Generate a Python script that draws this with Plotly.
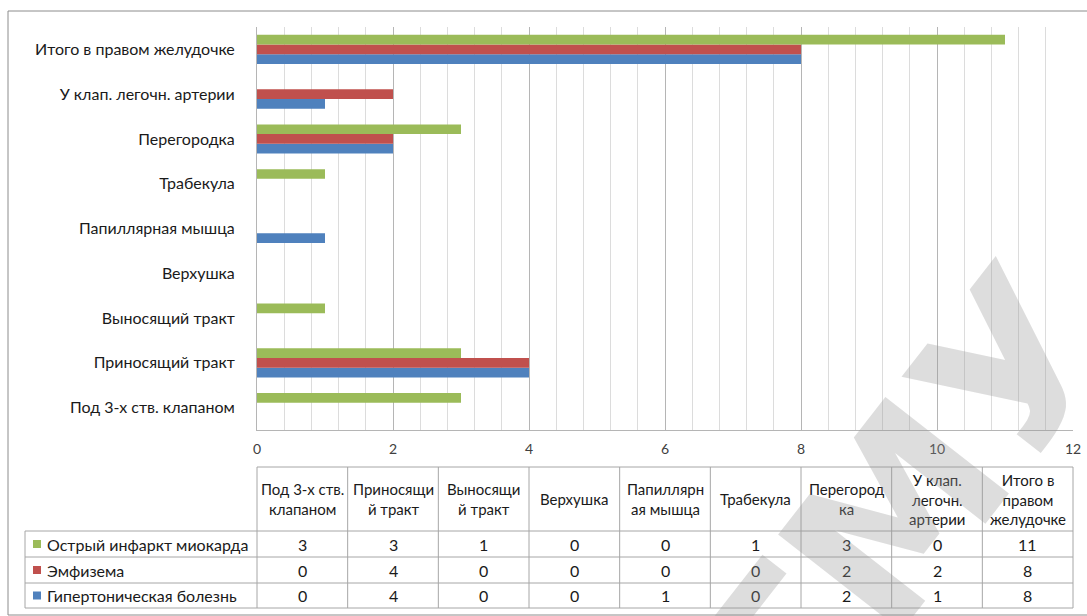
import plotly.graph_objects as go

W, H = 1087, 616

categories = ["Под 3-х ств. клапаном", "Приносящий тракт", "Выносящий тракт", "Верхушка",
              "Папиллярная мышца", "Трабекула", "Перегородка", "У клап. легочн. артерии",
              "Итого в правом желудочке"]
header_labels = ["Под 3-х ств.<br>клапаном", "Приносящи<br>й тракт", "Выносящи<br>й тракт", "Верхушка",
                 "Папиллярн<br>ая мышца", "Трабекула", "Перегород<br>ка", "У клап.<br>легочн.<br>артерии",
                 "Итого в<br>правом<br>желудочке"]

hypertension = [0, 4, 0, 0, 1, 0, 2, 1, 8]
emphysema = [0, 4, 0, 0, 0, 0, 2, 2, 8]
infarction = [3, 3, 1, 0, 0, 1, 3, 0, 11]

series_names = ["Острый инфаркт миокарда", "Эмфизема", "Гипертоническая болезнь"]
series_values = [infarction, emphysema, hypertension]
series_colors = ["#9BBB59", "#C0504D", "#4F81BD"]

FONT = "Lato, Open Sans, sans-serif"
TXT = "#1a1a1a"

PLOT_L, PLOT_R, PLOT_T, PLOT_B = 257, 1073, 27, 430

def px(x):
    return x / W

def py(y):
    return 1 - y / H

fig = go.Figure()
# plotly draws first trace at bottom of group: blue, red, green
for name, vals, col in reversed(list(zip(series_names, series_values, series_colors))):
    fig.add_trace(go.Bar(y=categories, x=vals, orientation="h", name=name,
                         marker=dict(color=col, line=dict(width=0))))

shapes = []
annotations = []

# outer border
shapes.append(dict(type="rect", xref="paper", yref="paper", x0=px(8), x1=px(1100),
                   y0=py(615), y1=py(11), line=dict(color="#8c8c8c", width=1), layer="below"))

# data table grid (columns aligned with plot area)
ncol = len(categories)
col_px = [PLOT_L + i * (PLOT_R - PLOT_L) / ncol for i in range(ncol + 1)]
row_y = [467, 531, 557, 583, 608]
tbl_col = "#a6a6a6"
for xx in col_px:
    shapes.append(dict(type="line", xref="paper", yref="paper", x0=px(xx), x1=px(xx),
                       y0=py(row_y[0]), y1=py(row_y[-1]), line=dict(color=tbl_col, width=1),
                       layer="above"))
shapes.append(dict(type="line", xref="paper", yref="paper", x0=px(25), x1=px(25),
                   y0=py(row_y[1]), y1=py(row_y[-1]), line=dict(color=tbl_col, width=1),
                   layer="above"))
shapes.append(dict(type="line", xref="paper", yref="paper", x0=px(PLOT_L), x1=px(PLOT_R),
                   y0=py(row_y[0]), y1=py(row_y[0]), line=dict(color=tbl_col, width=1),
                   layer="above"))
for yy in row_y[1:]:
    shapes.append(dict(type="line", xref="paper", yref="paper", x0=px(25), x1=px(PLOT_R),
                       y0=py(yy), y1=py(yy), line=dict(color=tbl_col, width=1), layer="above"))

col_w = 12 / ncol
# header texts
for i, lab in enumerate(header_labels):
    annotations.append(dict(xref="x", yref="paper", x=(i + 0.5) * col_w,
                            y=py((row_y[0] + row_y[1]) / 2), text=lab, showarrow=False,
                            xanchor="center", yanchor="middle",
                            font=dict(family=FONT, size=15, color=TXT), align="center"))
# body rows
for r, (name, vals, col) in enumerate(zip(series_names, series_values, series_colors)):
    yc = (row_y[r + 1] + row_y[r + 2]) / 2
    shapes.append(dict(type="rect", xref="paper", yref="paper", x0=px(33), x1=px(41),
                       y0=py(yc + 4), y1=py(yc - 4), fillcolor=col, line=dict(width=0)))
    annotations.append(dict(xref="paper", yref="paper", x=px(45), y=py(yc), text=name,
                            showarrow=False, xanchor="left", yanchor="middle",
                            font=dict(family=FONT, size=16, color=TXT)))
    for i, v in enumerate(vals):
        annotations.append(dict(xref="x", yref="paper", x=(i + 0.5) * col_w, y=py(yc),
                                text=str(v), showarrow=False, xanchor="center", yanchor="middle",
                                font=dict(family=FONT, size=16, color=TXT)))

# watermark
annotations.append(dict(xref="paper", yref="paper", x=px(905), y=py(505), text="ГМУ",
                        showarrow=False, textangle=-52, xanchor="center", yanchor="middle",
                        font=dict(family="DejaVu Sans", size=215, weight="bold",
                                  color="rgba(150,150,150,0.32)")))

fig.update_layout(
    width=W, height=H,
    margin=dict(l=0, r=0, t=0, b=0, autoexpand=False),
    paper_bgcolor="white", plot_bgcolor="white",
    barmode="group", bargap=0.35, bargroupgap=0,
    showlegend=False,
    font=dict(family=FONT, color=TXT),
    xaxis=dict(domain=[px(PLOT_L), px(PLOT_R)], range=[0, 12], dtick=2, tick0=0,
               showgrid=True, gridcolor="#b5b5b5", gridwidth=1,
               minor=dict(dtick=0.4, tick0=0, showgrid=True, gridcolor="#dcdcdc", gridwidth=1),
               showline=True, linecolor="#b5b5b5", linewidth=1, zeroline=False,
               ticks="", tickfont=dict(family=FONT, size=14, color="#404040"),
               ticklabelstandoff=6, automargin=False, fixedrange=True),
    yaxis=dict(domain=[py(PLOT_B), py(PLOT_T)], type="category", categoryorder="array",
               categoryarray=categories, showgrid=False, zeroline=False,
               showline=True, linecolor="#b5b5b5", linewidth=1, ticks="",
               tickfont=dict(family=FONT, size=16, color=TXT), ticklabelstandoff=18,
               automargin=False),
    shapes=shapes, annotations=annotations,
)

fig.write_html("out.html")
